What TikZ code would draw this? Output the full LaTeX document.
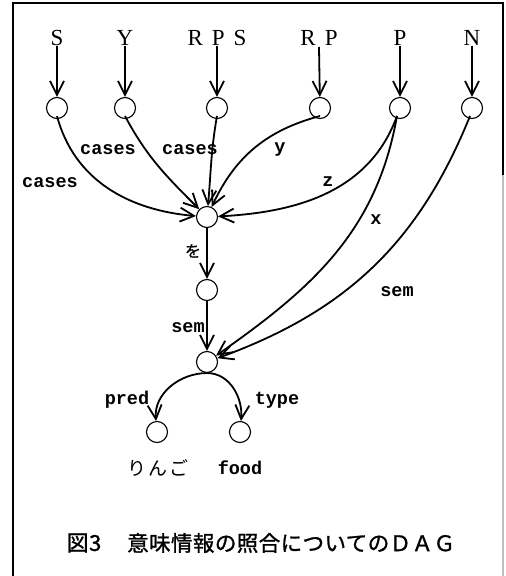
\documentclass[tikz,border=0pt]{standalone}
\usepackage{fontspec}
\setmainfont{Liberation Serif}
\newfontfamily\lblfont{Liberation Mono}[UprightFont=*-Bold]
\newfontfamily\jpfont{Noto Sans CJK JP}[FakeBold=1]
\newfontfamily\jpspaced{Noto Sans CJK JP}[LetterSpace=8]
\newfontfamily\jpcap{Noto Sans CJK JP}[LetterSpace=2,FakeBold=1.2]
\usetikzlibrary{arrows.meta}
\begin{document}
\begin{tikzpicture}[x=1pt,y=-1pt,
  every node/.style={inner sep=0pt},
  nd/.style={circle,draw,line width=1.1pt,minimum size=21pt},
  top/.style={font=\fontsize{23}{23}\selectfont},
  lab/.style={font=\lblfont\fontsize{18.5}{18.5}\selectfont},
  arr/.style={line width=1.8pt,-{Straight Barb[length=14pt,width=14pt,line width=1.8pt]}},
  frame/.style={line width=1.3pt}]
\useasboundingbox (0,0) rectangle (506,576);
\draw[frame] (13,576) -- (13,3) -- (503,3) -- (503,175);
\draw[frame,gray!50] (503,175) -- (503,576);
% top labels
\node[top] (lS) at (57,38) {S};
\node[top] (lY) at (125,38) {Y};
\node[top] (lRPS) at (217,38) {R\hspace{9pt}P\hspace{9pt}S};
\node[top] (lRP) at (319,38) {R\hspace{9pt}P};
\node[top] (lP) at (400,38) {P};
\node[top] (lN) at (472,38) {N};
% circles
\node[nd] (s) at (57,108) {};
\node[nd] (y) at (125,108) {};
\node[nd] (rps) at (217,108) {};
\node[nd] (rp) at (320,108) {};
\node[nd] (p) at (400,108) {};
\node[nd] (n) at (472,108) {};
\node[nd] (c1) at (207,217) {};
\node[nd] (c2) at (207,290) {};
\node[nd] (c3) at (207,362) {};
\node[nd] (pl) at (157,432) {};
\node[nd] (pr) at (240,432) {};
% top arrows
\draw[arr] (lS) -- (s);
\draw[arr] (lY) -- (y);
\draw[arr] (lRPS) -- (rps);
\draw[arr] (319,47) -- (rp);
\draw[arr] (lP) -- (p);
\draw[arr] (lN) -- (n);
% edges into c1
\draw[arr] (s.center) ++(0,8) to[out=-75,in=175] (c1);
\draw[arr] (y.center) ++(0,8) to[out=-62,in=135] (c1);
\draw[arr] (rps.center) ++(0,8) to[out=-100,in=85] (c1);
\draw[arr] (rp.center) ++(0,8) to[out=195,in=65] (c1);
\draw[arr] (p.center) ++(-3,8) to[out=-110,in=3] (c1);
% edges into c3
\draw[arr] (p.center) ++(-3,8) to[out=-100,in=35] (c3);
\draw[arr] (n.center) ++(-2,8) to[out=-112,in=20] (c3);
\draw[arr] (c1) -- (c2);
\draw[arr] (c2) -- (c3);
\draw[arr] (c3.south) to[out=180,in=95] (pl);
\draw[arr] (c3.south) to[out=0,in=85] (pr);
% edge labels
\node[lab] (t1) at (50,183) {cases};
\node[lab] (t2) at (108,150) {cases};
\node[lab] (t3) at (190,150) {cases};
\node[lab] (t4) at (280,150) {y};
\node[lab] (t5) at (328,182) {z};
\node[lab] (t6) at (376,220) {x};
\node[lab] (t7) at (397,292) {sem};
\node[font=\jpfont\fontsize{16}{16}\selectfont] (t8) at (193,251) {を};
\node[lab] (t9) at (188,328) {sem};
\node[lab] (t10) at (127,400) {pred};
\node[lab] (t11) at (277,400) {type};
\node[font=\jpspaced\fontsize{19}{19}\selectfont] (v1) at (158,468) {りんご};
\node[lab] (v2) at (240,468) {food};
\node[font=\jpcap\fontsize{22}{22}\selectfont] (cap1) at (84,543) {図3};
\node[font=\jpcap\fontsize{21.5}{21.5}\selectfont,anchor=west] (cap2) at (127,543) {意味情報の照合についてのＤＡＧ};
\end{tikzpicture}
\end{document}
